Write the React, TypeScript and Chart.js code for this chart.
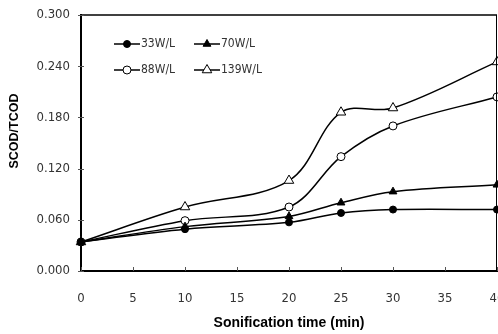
import React, { useEffect, useRef } from 'react';
import { Chart, registerables } from 'chart.js';
import { drawPoint } from 'chart.js/helpers';

Chart.register(...registerables);

const times = [0, 10, 20, 25, 30, 40];
const seriesLabels = ['33W/L', '70W/L', '88W/L', '139W/L'];
const s33 = [0.034, 0.049, 0.057, 0.068, 0.072, 0.072];
const s70 = [0.034, 0.052, 0.064, 0.080, 0.093, 0.101];
const s88 = [0.034, 0.059, 0.075, 0.134, 0.170, 0.204];
const s139 = [0.034, 0.075, 0.106, 0.186, 0.191, 0.245];
const xTicks = [0, 5, 10, 15, 20, 25, 30, 35, 40];
const yTicks = [0, 0.06, 0.12, 0.18, 0.24, 0.3];
const xTitle = 'Sonification time (min)';
const yTitle = 'SCOD/TCOD';

const FONT = "'DejaVu Sans Condensed', 'Liberation Sans', Arial, sans-serif";
const BOLD = "'Liberation Sans', Arial, sans-serif";

const framePlugin = {
  id: 'frame',
  afterLayout(chart: any) {
    const a = chart.chartArea;
    const target = chart.width - 1;
    a.right = target;
    a.width = a.right - a.left;
    const x = chart.scales.x;
    x.right = target;
    x.width = x.right - x.left;
    x.configure();
  },
  afterDraw(chart: any) {
    const { ctx, chartArea: a, scales } = chart;
    ctx.save();
    ctx.strokeStyle = '#000';
    ctx.lineWidth = 1.5;
    ctx.beginPath();
    ctx.moveTo(a.left, a.top);
    ctx.lineTo(a.right, a.top);
    ctx.stroke();
    ctx.lineWidth = 1;
    ctx.beginPath();
    ctx.moveTo(a.right - 0.5, a.top);
    ctx.lineTo(a.right - 0.5, a.bottom);
    ctx.stroke();
    ctx.strokeStyle = '#555';
    ctx.lineWidth = 1;
    ctx.beginPath();
    for (const t of xTicks) {
      const x = Math.round(scales.x.getPixelForValue(t)) + 0.5;
      ctx.moveTo(x, a.bottom);
      ctx.lineTo(x, a.bottom - 4);
    }
    for (const t of yTicks) {
      const y = Math.round(scales.y.getPixelForValue(t)) + 0.5;
      ctx.moveTo(a.left - 3, y);
      ctx.lineTo(a.left + 3, y);
    }
    ctx.stroke();
    // y-axis title
    ctx.translate(15, 131);
    ctx.rotate(-Math.PI / 2);
    ctx.fillStyle = '#000';
    ctx.font = `bold 12.5px ${BOLD}`;
    ctx.textAlign = 'center';
    ctx.textBaseline = 'middle';
    ctx.fillText(yTitle, 0, 0);
    ctx.restore();
  },
};

const legendPlugin = {
  id: 'inlineLegend',
  afterDatasetsDraw(chart: any) {
    const { ctx } = chart;
    const cols = [114, 194];
    const rows = [44, 70];
    ctx.save();
    chart.data.datasets.forEach((ds: any, i: number) => {
      const x0 = cols[i % 2];
      const y = rows[Math.floor(i / 2)];
      ctx.strokeStyle = '#000';
      ctx.lineWidth = 1.5;
      ctx.beginPath();
      ctx.moveTo(x0, y);
      ctx.lineTo(x0 + 26, y);
      ctx.stroke();
      ctx.fillStyle = ds.pointBackgroundColor;
      ctx.strokeStyle = '#000';
      ctx.lineWidth = 1;
      drawPoint(ctx, { pointStyle: ds.pointStyle, radius: ds.pointRadius, borderWidth: 1, rotation: 0 }, x0 + 13, y);
      ctx.fillStyle = '#333';
      ctx.font = `12px ${FONT}`;
      ctx.textBaseline = 'middle';
      ctx.textAlign = 'left';
      ctx.fillText(ds.label, x0 + 27, y);
    });
    ctx.restore();
  },
};

export default function App() {
  const ref = useRef<HTMLCanvasElement | null>(null);
  useEffect(() => {
    document.body.style.margin = '0';
    const mk = (vals: number[]) => vals.map((v, i) => ({ x: times[i], y: v }));
    const styles = [
      { pointStyle: 'circle', pointRadius: 3.5, pointBackgroundColor: '#000' },
      { pointStyle: 'triangle', pointRadius: 4.5, pointBackgroundColor: '#000' },
      { pointStyle: 'circle', pointRadius: 4, pointBackgroundColor: '#fff' },
      { pointStyle: 'triangle', pointRadius: 5.5, pointBackgroundColor: '#fff' },
    ];
    const all = [s33, s70, s88, s139];
    const chart = new Chart(ref.current!, {
      type: 'line',
      data: {
        datasets: all.map((vals, i) => ({
          label: seriesLabels[i],
          data: mk(vals),
          borderColor: '#000',
          borderWidth: 1.5,
          pointBorderColor: '#000',
          pointBorderWidth: 1,
          tension: 0.35,
          clip: false as any,
          ...styles[i],
        })) as any,
      },
      options: {
        animation: false,
        responsive: false,
        layout: { padding: { left: 0, right: 1, top: 15, bottom: 0 } },
        plugins: { legend: { display: false }, tooltip: { enabled: false } },
        scales: {
          x: {
            type: 'linear',
            min: 0,
            max: 40,
            afterBuildTicks: (s: any) => { s.ticks = xTicks.map((v) => ({ value: v })); },
            afterFit: (s: any) => { s.height = 63; s.paddingLeft = 0; s.paddingRight = 0; },
            grid: { display: false, drawTicks: false },
            border: { display: true, color: '#000', width: 2 },
            ticks: { color: '#333', font: { family: FONT, size: 13 }, padding: 20, maxRotation: 0, autoSkip: false },
            title: { display: true, text: xTitle, color: '#000', font: { family: BOLD, size: 14, weight: 'bold' }, padding: { top: 0, bottom: 2 } },
          },
          y: {
            min: 0,
            max: 0.3,
            afterBuildTicks: (s: any) => { s.ticks = yTicks.map((v) => ({ value: v })); },
            afterFit: (s: any) => { s.width = 81; s.paddingTop = 0; s.paddingBottom = 0; },
            grid: { display: false, drawTicks: false },
            border: { display: true, color: '#000', width: 2 },
            ticks: { color: '#333', font: { family: FONT, size: 13 }, padding: 11, callback: (v: any) => Number(v).toFixed(3) },
            title: { display: false },
          },
        },
      },
      plugins: [framePlugin, legendPlugin],
    });
    return () => chart.destroy();
  }, []);
  return <canvas ref={ref} width={498} height={334} style={{ display: 'block' }} />;
}
